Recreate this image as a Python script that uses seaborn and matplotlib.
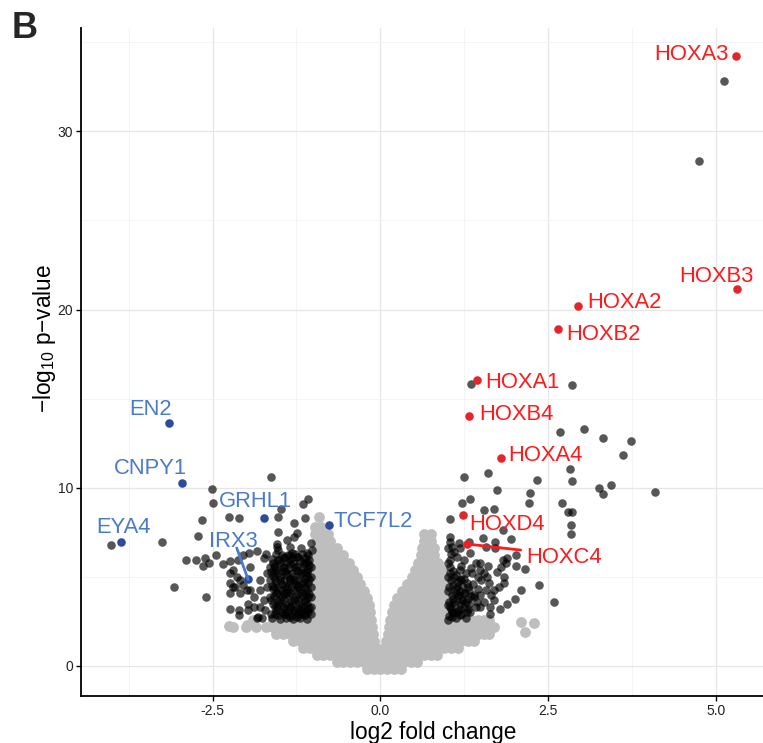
import matplotlib
matplotlib.use("Agg")
import matplotlib.pyplot as plt
import seaborn as sns
import pandas as pd

# ---------------- data ----------------
# labelled genes
up_genes = ["HOXA3", "HOXB3", "HOXA2", "HOXB2", "HOXA1", "HOXB4", "HOXA4", "HOXD4", "HOXC4"]
up_lfc = [5.30, 5.31, 2.94, 2.64, 1.44, 1.32, 1.79, 1.23, 1.29]
up_logp = [34.25, 21.15, 20.20, 18.92, 16.05, 14.05, 11.69, 8.47, 6.84]

down_genes = ["EN2", "CNPY1", "EYA4", "GRHL1", "IRX3", "TCF7L2"]
down_lfc = [-3.15, -2.96, -3.87, -1.74, -1.97, -0.76]
down_logp = [13.61, 10.28, 6.97, 8.28, 4.85, 7.90]

# significant (dark) genes, up-regulated
sig_up = [
    (5.12, 32.81), (4.74, 28.34), (1.35, 15.83), (2.86, 15.79), (2.68, 13.13), (3.03, 13.31),
    (3.31, 12.77), (3.73, 12.62), (3.61, 11.84), (2.82, 11.07), (2.86, 10.38), (2.33, 10.42),
    (1.61, 10.81), (1.25, 10.58), (1.74, 9.85), (2.23, 9.72), (3.26, 9.97), (3.43, 10.17),
    (3.31, 9.63), (4.09, 9.76), (1.33, 9.38), (1.21, 9.14), (2.22, 9.16), (2.71, 9.12),
    (1.55, 8.73), (1.70, 8.82), (2.80, 8.62), (2.86, 8.62), (1.03, 8.22), (2.84, 7.90),
    (2.84, 7.40), (1.83, 7.61),
    (1.03, 7.25), (1.03, 6.97), (1.06, 6.69), (1.17, 6.87), (1.19, 6.59), (1.32, 6.97),
    (1.53, 7.16), (1.71, 6.97), (1.71, 6.59), (1.58, 6.69), (1.94, 7.10), (1.88, 6.03),
    (2.02, 6.22), (2.02, 5.60), (2.15, 5.41), (2.36, 4.53), (2.09, 4.25), (2.58, 3.60),
    (2.01, 3.78), (1.89, 3.46), (1.78, 3.22), (1.64, 2.94), (1.49, 3.31), (1.44, 3.60),
    (1.34, 3.03), (1.22, 3.69), (1.07, 2.75), (1.04, 3.31), (1.12, 4.07), (1.14, 4.44),
    (1.19, 4.81), (1.29, 4.63), (1.32, 4.25), (1.09, 5.00), (1.04, 5.56), (1.04, 5.94),
    (1.05, 6.27), (1.14, 6.12), (1.24, 5.94), (1.34, 6.31), (1.42, 5.75), (1.49, 5.75),
    (1.49, 5.37), (1.59, 5.00), (1.62, 4.63), (1.57, 4.25), (1.69, 4.25), (1.77, 4.44),
    (1.74, 5.28), (1.79, 5.56), (1.82, 5.94), (1.87, 5.75), (1.84, 5.00), (1.84, 4.63),
    (1.49, 3.97), (1.54, 3.60), (1.64, 3.31), (1.37, 5.19), (1.27, 5.19), (1.19, 5.37),
    (1.39, 3.88), (1.24, 4.07), (1.14, 3.03), (1.17, 3.97), (1.27, 3.60), (1.09, 3.60),
    (1.19, 3.22), (1.29, 3.03), (1.07, 3.03),
    (1.02, 2.80), (1.05, 3.20), (1.02, 3.60), (1.06, 4.00), (1.02, 4.40), (1.05, 4.80),
    (1.03, 5.20), (1.12, 2.70), (1.15, 3.10), (1.11, 3.50), (1.16, 3.90), (1.12, 4.30),
    (1.15, 4.70), (1.13, 5.10), (1.22, 2.90), (1.25, 3.30), (1.21, 3.70), (1.26, 4.10),
    (1.22, 4.50), (1.25, 4.90), (1.32, 3.50), (1.35, 3.90), (1.30, 4.40), (1.38, 4.60),
    (1.42, 3.30), (1.45, 4.30), (1.50, 4.80), (1.55, 5.20), (1.60, 5.60), (1.65, 4.00),
    (1.70, 3.70),
    (1.00, 2.60), (1.08, 2.95), (1.00, 3.40), (1.08, 3.75), (1.00, 4.20), (1.08, 4.55),
    (1.00, 5.00), (1.08, 5.35), (1.00, 5.75), (1.18, 2.85), (1.20, 3.45), (1.18, 4.20),
    (1.20, 4.85), (1.30, 3.20), (1.30, 3.75), (1.28, 2.70), (1.40, 4.00), (1.35, 5.50),
    (1.45, 5.00), (1.20, 5.60), (1.10, 6.40), (1.00, 6.60),
]

# significant (dark) genes, down-regulated
sig_down = [
    (-4.01, 6.80), (-3.25, 6.98), (-3.08, 4.44), (-2.60, 3.88), (-1.63, 10.62), (-2.51, 9.91),
    (-2.49, 9.12), (-1.08, 9.38), (-1.16, 9.06), (-1.48, 8.78), (-2.26, 8.37), (-2.10, 8.30),
    (-2.66, 8.18), (-1.52, 8.33), (-1.29, 8.00), (-1.13, 8.28), (-2.72, 7.28), (-1.52, 7.53),
    (-1.24, 7.47), (-2.90, 5.94), (-2.74, 5.94), (-2.61, 6.03), (-2.55, 5.79), (-2.64, 5.60),
    (-2.45, 6.22), (-2.35, 5.71), (-2.24, 5.88), (-2.12, 5.94), (-2.04, 6.22), (-1.84, 6.44),
    (-1.71, 6.27), (-1.54, 6.84), (-1.39, 7.06), (-1.29, 7.25), (-1.04, 6.87), (-1.02, 6.50),
    (-1.19, 6.59), (-1.52, 6.50), (-1.34, 6.69), (-1.94, 5.56), (-1.96, 6.31),
    (-2.24, 5.19), (-2.19, 5.38), (-2.14, 5.00), (-2.24, 4.63), (-2.19, 4.44), (-2.09, 4.81),
    (-2.04, 4.53), (-1.99, 4.25), (-2.09, 4.07), (-2.24, 4.07), (-2.24, 3.22), (-2.11, 3.13),
    (-1.97, 3.50), (-1.97, 3.13), (-1.84, 2.66), (-1.77, 2.66), (-1.89, 3.88), (-1.89, 3.32),
    (-1.79, 4.25), (-1.79, 4.81), (-1.69, 5.19), (-1.69, 4.44), (-1.64, 3.88), (-1.74, 3.69),
    (-1.72, 3.13), (-1.57, 2.94), (-1.54, 3.32), (-1.59, 5.56), (-1.52, 5.94), (-1.44, 6.12),
    (-1.34, 5.94), (-1.24, 6.12), (-1.14, 5.84), (-1.04, 5.56), (-1.04, 5.00), (-1.04, 4.44),
    (-1.04, 3.88), (-1.04, 3.32), (-1.04, 2.94), (-1.14, 2.94), (-1.24, 2.75), (-1.34, 2.75),
    (-1.44, 2.94), (-1.49, 3.69), (-1.39, 4.07), (-1.29, 4.81), (-1.19, 5.19), (-1.39, 5.19),
    (-1.49, 4.81), (-1.29, 3.69), (-1.19, 4.07), (-1.14, 4.63), (-1.39, 4.44), (-1.44, 5.56),
    (-1.19, 3.32), (-1.34, 3.32), (-1.59, 4.44), (-1.64, 4.81), (-1.09, 6.31), (-1.27, 5.56),
    (-1.12, 3.69), (-1.34, 4.81), (-1.22, 4.44), (-1.44, 4.07), (-1.44, 3.32), (-1.09, 5.28),
    (-1.32, 6.31), (-1.54, 4.07), (-1.19, 2.94), (-1.59, 5.19), (-1.29, 3.13), (-1.39, 2.94),
    (-1.09, 3.13), (-2.16, 4.44), (-2.11, 2.85), (-1.82, 2.76), (-1.79, 3.32), (-1.94, 4.25),
    (-1.64, 5.56), (-1.74, 6.03), (-1.54, 6.69), (-1.34, 6.22), (-1.07, 5.94),
    (-1.62, 2.70), (-1.55, 3.10), (-1.60, 3.50), (-1.58, 3.90), (-1.60, 4.30), (-1.56, 4.70),
    (-1.60, 5.05), (-1.55, 5.40), (-1.60, 5.80), (-1.50, 2.65), (-1.47, 3.05), (-1.52, 3.45),
    (-1.46, 3.85), (-1.50, 4.25), (-1.47, 4.60), (-1.50, 5.00), (-1.46, 5.35), (-1.50, 5.75),
    (-1.47, 6.20), (-1.40, 2.70), (-1.37, 3.10), (-1.41, 3.50), (-1.36, 3.90), (-1.40, 4.30),
    (-1.35, 4.70), (-1.40, 5.10), (-1.36, 5.50), (-1.41, 5.85), (-1.38, 6.25), (-1.30, 2.65),
    (-1.27, 3.05), (-1.31, 3.45), (-1.26, 3.85), (-1.30, 4.25), (-1.25, 4.60), (-1.30, 5.00),
    (-1.26, 5.40), (-1.30, 5.80), (-1.27, 6.30), (-1.20, 2.70), (-1.17, 3.10), (-1.21, 3.50),
    (-1.16, 3.90), (-1.20, 4.30), (-1.15, 4.70), (-1.20, 5.10), (-1.16, 5.50), (-1.20, 5.90),
    (-1.17, 6.30), (-1.10, 2.65), (-1.08, 3.05), (-1.10, 3.45), (-1.08, 3.85), (-1.10, 4.25),
    (-1.08, 4.65), (-1.10, 5.05), (-1.08, 5.45), (-1.10, 5.85), (-1.08, 6.20),
    (-1.63, 2.90), (-1.57, 3.30), (-1.63, 3.70), (-1.56, 4.10), (-1.62, 4.50), (-1.57, 4.90),
    (-1.63, 5.25), (-1.57, 5.60), (-1.62, 6.00), (-1.52, 2.85), (-1.45, 3.25), (-1.53, 3.65),
    (-1.44, 4.05), (-1.53, 4.45), (-1.44, 4.80), (-1.53, 5.20), (-1.45, 5.55), (-1.53, 5.95),
    (-1.55, 6.30), (-1.42, 2.90), (-1.35, 3.30), (-1.43, 3.70), (-1.34, 4.10), (-1.42, 4.50),
    (-1.34, 4.90), (-1.42, 5.30), (-1.35, 5.70), (-1.43, 6.05), (-1.32, 2.85), (-1.24, 3.25),
    (-1.33, 3.65), (-1.24, 4.05), (-1.32, 4.45), (-1.24, 4.80), (-1.32, 5.20), (-1.24, 5.60),
    (-1.32, 6.05), (-1.22, 2.90), (-1.14, 3.30), (-1.23, 3.70), (-1.13, 4.10), (-1.22, 4.50),
    (-1.13, 4.90), (-1.22, 5.30), (-1.14, 5.70), (-1.22, 6.10), (-1.12, 2.85), (-1.06, 3.25),
    (-1.12, 3.65), (-1.06, 4.05), (-1.12, 4.45), (-1.06, 4.85), (-1.12, 5.25), (-1.06, 5.65),
    (-1.12, 6.05),
]

# non-significant (grey) genes, read row by row from the cloud
grey_row_y = [-0.2, 0.2, 0.6, 1.0, 1.4, 1.8, 2.2, 2.6, 3.0, 3.4, 3.8, 4.2, 4.6, 5.0,
              5.4, 5.8, 6.2, 6.6, 7.0, 7.4, 7.8, 8.35]
grey_row_x = [
    [-0.2, -0.1, 0.0, 0.1, 0.2, 0.3],
    [-0.65, -0.55, -0.45, -0.35, -0.25, -0.15, -0.05, 0.05, 0.15, 0.25, 0.35, 0.45, 0.55],
    [-0.95, -0.85, -0.75, -0.65, -0.55, -0.45, -0.35, -0.25, -0.15, -0.05, 0.05, 0.15, 0.25,
     0.35, 0.45, 0.55, 0.65, 0.75, 0.85],
    [-1.15, -1.05, -0.95, -0.85, -0.75, -0.65, -0.55, -0.45, -0.35, -0.25, -0.15, -0.06, 0.06,
     0.15, 0.25, 0.35, 0.45, 0.55, 0.65, 0.75, 0.85, 0.95, 1.05, 1.15],
    [-1.3, -1.2, -1.1, -1.0, -0.9, -0.8, -0.7, -0.6, -0.5, -0.4, -0.3, -0.2, -0.09, 0.09, 0.2,
     0.3, 0.4, 0.5, 0.6, 0.7, 0.8, 0.9, 1.0, 1.1, 1.2, 1.3, 1.4],
    [-1.55, -1.45, -1.35, -1.25, -1.15, -1.05, -0.95, -0.85, -0.75, -0.65, -0.55, -0.45, -0.35,
     -0.25, -0.11, 0.11, 0.25, 0.35, 0.45, 0.55, 0.65, 0.75, 0.85, 0.95, 1.05, 1.15, 1.25,
     1.35, 1.45, 1.55, 1.62],
    [-2.2, -2.0, -1.85, -1.7, -1.6, -1.5, -1.4, -1.3, -1.2, -1.1, -1.0, -0.9, -0.8, -0.7, -0.6,
     -0.5, -0.4, -0.3, -0.2, -0.12, 0.13, 0.2, 0.3, 0.4, 0.5, 0.6, 0.7, 0.8, 0.9, 1.0, 1.1,
     1.2, 1.3, 1.4, 1.5, 1.6, 1.7],
    [-1.9, -1.6, -1.5, -1.4, -1.3, -1.2, -1.1, -1.0, -0.9, -0.8, -0.7, -0.6, -0.5, -0.4, -0.3,
     -0.2, -0.14, 0.15, 0.25, 0.35, 0.45, 0.55, 0.65, 0.75, 0.85, 0.95, 1.05, 1.15, 1.25,
     1.35, 1.45, 1.55, 1.62],
    [-1.2, -1.1, -1.0, -0.9, -0.8, -0.7, -0.6, -0.5, -0.4, -0.3, -0.2, -0.15, 0.17, 0.25,
     0.35, 0.45, 0.55, 0.65, 0.75, 0.85, 0.95, 1.05],
    [-1.15, -1.05, -0.95, -0.85, -0.75, -0.65, -0.55, -0.45, -0.35, -0.25, -0.17, 0.2, 0.3,
     0.4, 0.5, 0.6, 0.7, 0.8, 0.9, 1.0],
    [-1.2, -1.1, -1.0, -0.9, -0.8, -0.7, -0.6, -0.5, -0.4, -0.3, -0.2, 0.25, 0.35, 0.45, 0.55,
     0.65, 0.75, 0.85, 0.95, 1.05],
    [-1.15, -1.05, -0.95, -0.85, -0.75, -0.65, -0.55, -0.45, -0.35, -0.25, 0.32, 0.42, 0.52,
     0.62, 0.72, 0.82, 0.92, 1.0],
    [-1.2, -1.1, -1.0, -0.9, -0.8, -0.7, -0.6, -0.5, -0.4, -0.3, 0.4, 0.5, 0.6, 0.7, 0.8, 0.9,
     1.0],
    [-1.15, -1.05, -0.95, -0.85, -0.75, -0.65, -0.55, -0.45, -0.35, 0.47, 0.57, 0.67, 0.77,
     0.87, 0.97],
    [-1.1, -1.0, -0.9, -0.8, -0.7, -0.6, -0.5, -0.41, 0.52, 0.62, 0.72, 0.82, 0.92],
    [-1.05, -0.95, -0.85, -0.75, -0.65, -0.55, -0.47, 0.56, 0.66, 0.76, 0.86],
    [-1.0, -0.9, -0.8, -0.7, -0.6, -0.55, 0.6, 0.7, 0.8],
    [-0.95, -0.85, -0.75, -0.65, 0.62, 0.72, 0.8],
    [-0.95, -0.85, -0.75, 0.65, 0.75],
    [-0.97, -0.87, -0.78, 0.65, 0.75],
    [-0.97, -0.88],
    [-0.92],
]
grey_extra = [(2.09, 2.48), (2.29, 2.38), (2.16, 1.91), (-2.25, 2.23), (-1.99, 2.28)]

# ---------------- tables ----------------
grey_df = pd.DataFrame(
    [(x, y) for y, xs in zip(grey_row_y, grey_row_x) for x in xs] + grey_extra,
    columns=["lfc", "logp"])
dark_df = pd.DataFrame(sig_up + sig_down, columns=["lfc", "logp"])
up_df = pd.DataFrame({"gene": up_genes, "lfc": up_lfc, "logp": up_logp})
down_df = pd.DataFrame({"gene": down_genes, "lfc": down_lfc, "logp": down_logp})

# ---------------- style ----------------
sns.set_style("white")
plt.rcParams["font.family"] = ["Liberation Sans", "DejaVu Sans"]
plt.rcParams["mathtext.fontset"] = "custom"
plt.rcParams["mathtext.rm"] = "Liberation Sans"
plt.rcParams["mathtext.default"] = "regular"

fig = plt.figure(figsize=(7.63, 7.43), dpi=100)
ax = fig.add_axes([81 / 763, 47 / 743, 682 / 763, 668 / 743])

MS = 38
GREY = "#bebebe"
sns.scatterplot(data=grey_df, x="lfc", y="logp", ax=ax, color=GREY, alpha=1.0,
                s=MS, linewidth=1.6, edgecolor=GREY, legend=False, zorder=2)
sns.scatterplot(data=dark_df, x="lfc", y="logp", ax=ax, color="black", alpha=0.66,
                s=MS, linewidth=0, legend=False, zorder=3)
sns.scatterplot(data=up_df, x="lfc", y="logp", ax=ax, color="#e3262b",
                s=MS, linewidth=0, legend=False, zorder=4)
sns.scatterplot(data=down_df, x="lfc", y="logp", ax=ax, color="#2c4b9c",
                s=MS, linewidth=0, legend=False, zorder=4)

# label layout (text centre x, baseline y)
up_label_pos = {
    "HOXA3": (4.63, 34.03), "HOXB3": (5.01, 21.56), "HOXA2": (3.63, 20.10),
    "HOXB2": (3.32, 18.30), "HOXA1": (2.12, 15.62), "HOXB4": (2.03, 13.80),
    "HOXA4": (2.46, 11.50), "HOXD4": (1.88, 7.62), "HOXC4": (2.74, 5.77),
}
down_label_pos = {
    "EN2": (-3.43, 14.09), "CNPY1": (-3.43, 10.77), "EYA4": (-3.83, 7.46),
    "GRHL1": (-1.86, 8.92), "IRX3": (-2.19, 6.67), "TCF7L2": (-0.11, 7.79),
}
RED_TXT = "#ff1a1a"
BLUE_TXT = "#4a7bc9"
for g, (tx, ty) in up_label_pos.items():
    ax.text(tx, ty, g, color=RED_TXT, fontsize=15.8, ha="center", va="baseline", zorder=5)
for g, (tx, ty) in down_label_pos.items():
    ax.text(tx, ty, g, color=BLUE_TXT, fontsize=15.8, ha="center", va="baseline", zorder=5)

# repel segments
r = up_df.set_index("gene").loc["HOXC4"]
ax.plot([r.lfc, 2.09], [r.logp, 6.50], color=RED_TXT, lw=2.0, zorder=4)
b = down_df.set_index("gene").loc["IRX3"]
ax.plot([b.lfc, -2.14], [b.logp, 6.62], color=BLUE_TXT, lw=2.0, zorder=4)

# axes
ax.set_xlim(-4.46, 5.70)
ax.set_ylim(-1.69, 35.8)
ax.set_xticks([-2.5, 0.0, 2.5, 5.0])
ax.set_xticklabels(["-2.5", "0.0", "2.5", "5.0"])
ax.set_yticks([0, 10, 20, 30])
ax.set_xticks([-3.75, -1.25, 1.25, 3.75], minor=True)
ax.set_yticks([5, 15, 25, 35], minor=True)
ax.grid(True, which="major", color="#e6e6e6", lw=0.9, zorder=0)
ax.grid(True, which="minor", color="#f2f2f2", lw=0.6, zorder=0)
ax.set_axisbelow(True)
for side in ["top", "right"]:
    ax.spines[side].set_visible(False)
for side in ["left", "bottom"]:
    ax.spines[side].set_color("black")
    ax.spines[side].set_linewidth(1.3)
ax.tick_params(axis="both", which="major", length=3.5, width=1.0, color="black",
               labelsize=10, labelcolor="#222222", direction="out", pad=2,
               bottom=True, left=True)
ax.tick_params(axis="both", which="minor", length=0)

ax.set_xlabel("log2 fold change", fontsize=16.3, color="black")
ax.set_ylabel("\u2212log$_{10}$ p\u2212value", fontsize=16.3, color="black")
ax.xaxis.set_label_coords(0.517, -0.037)
ax.yaxis.set_label_coords(-0.034, 0.536)

fig.text(12 / 763, 1 - 11 / 743, "B", fontsize=26, fontweight="bold", ha="left", va="top")

fig.savefig("out.png", dpi=100)
